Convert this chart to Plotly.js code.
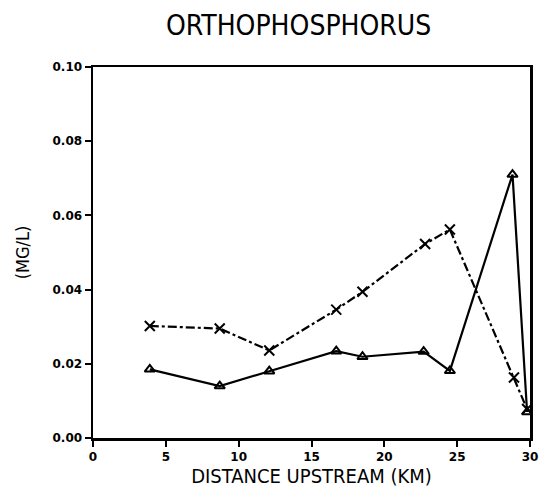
<!DOCTYPE html>
<html>
<head>
<meta charset="utf-8">
<script src="https://cdn.plot.ly/plotly-3.0.1.min.js"></script>
<style>html,body{margin:0;padding:0;background:#fff;}#chart{width:543px;height:494px;}</style>
</head>
<body>
<div id="chart"></div>
<script>
var xDistKm = [3.9, 8.7, 12.1, 16.7, 18.5, 22.8, 24.5, 28.9, 29.8];
var xSeriesVals = [0.0302, 0.0295, 0.0236, 0.0346, 0.0394, 0.0523, 0.0562, 0.0163, 0.0078];
var triDistKm = [3.9, 8.7, 12.1, 16.7, 18.5, 22.7, 24.5, 28.8, 29.8];
var triSeriesVals = [0.0185, 0.0140, 0.0180, 0.0234, 0.0219, 0.0233, 0.0181, 0.0710, 0.0070];
var xTickVals = [0, 5, 10, 15, 20, 25, 30];
var yTickVals = [0, 0.02, 0.04, 0.06, 0.08, 0.10];
var yTickText = ['0.00', '0.02', '0.04', '0.06', '0.08', '0.10'];

var traces = [
  {x: xDistKm, y: xSeriesVals, mode: 'lines+markers', type: 'scatter',
   line: {color: '#000', width: 2.2, dash: 'dashdot'},
   marker: {symbol: 'x-thin-open', size: 10, color: '#000', line: {color: '#000', width: 2}}},
  {x: triDistKm, y: triSeriesVals, mode: 'lines+markers', type: 'scatter',
   line: {color: '#000', width: 2.2},
   marker: {symbol: 'triangle-up-open', size: 9, color: '#000', line: {color: '#000', width: 2}}}
];

var fontTick = {family: 'DejaVu Sans', size: 12, color: '#000', weight: 'bold'};
var layout = {
  width: 543, height: 494,
  margin: {l: 93, r: 13, t: 67, b: 56},
  paper_bgcolor: '#fff', plot_bgcolor: '#fff',
  showlegend: false,
  title: {text: 'ORTHOPHOSPHORUS', x: 0.55, xanchor: 'center', y: 0.948, yanchor: 'middle',
          font: {family: 'Liberation Sans Narrow, DejaVu Sans Condensed, sans-serif', size: 28, color: '#000'}},
  xaxis: {range: [0, 30], tickvals: xTickVals, ticktext: xTickVals.map(String),
          showgrid: false, zeroline: false, showline: true, mirror: true, linecolor: '#000', linewidth: 2.5,
          ticks: 'outside', ticklen: 6, tickwidth: 2, tickcolor: '#000', tickfont: fontTick,
          title: {text: 'DISTANCE UPSTREAM (KM)', standoff: 5,
                  font: {family: 'Liberation Sans Narrow, DejaVu Sans Condensed, sans-serif', size: 20, color: '#000'}}},
  yaxis: {range: [0, 0.10], tickvals: yTickVals, ticktext: yTickText,
          showgrid: false, zeroline: false, showline: true, mirror: true, linecolor: '#000', linewidth: 2.5,
          ticks: 'outside', ticklen: 6, tickwidth: 2, tickcolor: '#000', tickfont: fontTick,
          title: {text: '(MG/L)', standoff: 18,
                  font: {family: 'DejaVu Sans Condensed, sans-serif', size: 18, color: '#000'}}}
};
Plotly.newPlot('chart', traces, layout, {staticPlot: true, displayModeBar: false});
</script>
</body>
</html>
